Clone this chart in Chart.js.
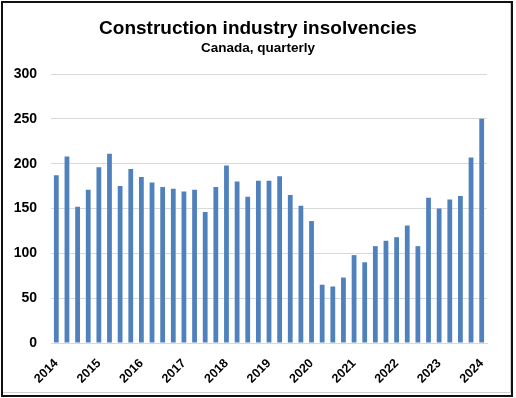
<!DOCTYPE html>
<html>
<head>
<meta charset="utf-8">
<script src="https://cdn.jsdelivr.net/npm/chart.js@4/dist/chart.umd.min.js"></script>
<style>
  html, body { margin: 0; padding: 0; background: #ffffff; }
  #wrap { position: absolute; left: 0; top: 0; width: 516px; height: 398px; }
</style>
</head>
<body>
<div id="wrap"><canvas id="c" width="516" height="398"></canvas></div>
<script>
const titleText = 'Construction industry insolvencies';
const subtitleText = 'Canada, quarterly';

const quarters = [
  '2014 Q1','2014 Q2','2014 Q3','2014 Q4',
  '2015 Q1','2015 Q2','2015 Q3','2015 Q4',
  '2016 Q1','2016 Q2','2016 Q3','2016 Q4',
  '2017 Q1','2017 Q2','2017 Q3','2017 Q4',
  '2018 Q1','2018 Q2','2018 Q3','2018 Q4',
  '2019 Q1','2019 Q2','2019 Q3','2019 Q4',
  '2020 Q1','2020 Q2','2020 Q3','2020 Q4',
  '2021 Q1','2021 Q2','2021 Q3','2021 Q4',
  '2022 Q1','2022 Q2','2022 Q3','2022 Q4',
  '2023 Q1','2023 Q2','2023 Q3','2023 Q4',
  '2024 Q1'
];

const insolvencies = [
  187, 208, 152, 171,
  196, 211, 175, 194,
  185, 179, 174, 172,
  169, 171, 146, 174,
  198, 180, 163, 181,
  181, 186, 165, 153,
  136, 65, 63, 73,
  98, 90, 108, 114,
  118, 131, 108, 162,
  150, 160, 164, 207,
  250
];

const yTicks = [0, 50, 100, 150, 200, 250, 300];

const framePlugin = {
  id: 'frame',
  afterDraw(chart) {
    const ctx = chart.ctx;
    ctx.save();
    ctx.strokeStyle = '#d0d0d0';
    ctx.lineWidth = 1;
    ctx.beginPath();
    ctx.moveTo(510.5, 3);
    ctx.lineTo(510.5, 392.5);
    ctx.lineTo(3, 392.5);
    ctx.stroke();
    ctx.strokeStyle = '#111111';
    ctx.lineWidth = 2;
    ctx.strokeRect(2, 2, 510, 394);
    ctx.restore();
  }
};

new Chart(document.getElementById('c'), {
  type: 'bar',
  data: {
    labels: quarters,
    datasets: [{
      label: 'Insolvencies',
      data: insolvencies,
      backgroundColor: '#4f81bd',
      borderWidth: 0,
      barPercentage: 0.45,
      categoryPercentage: 1.0
    }]
  },
  options: {
    responsive: false,
    animation: false,
    devicePixelRatio: 1,
    layout: { padding: { left: 0, right: 0, top: 0, bottom: 0 } },
    plugins: {
      legend: { display: false },
      tooltip: { enabled: false },
      title: {
        display: true,
        text: titleText,
        color: '#000000',
        font: { family: 'Liberation Sans', size: 19, weight: 'bold' },
        padding: { top: 17, bottom: 0 }
      },
      subtitle: {
        display: true,
        text: subtitleText,
        color: '#000000',
        font: { family: 'Liberation Sans', size: 13.5, weight: 'bold' },
        padding: { top: 0, bottom: 18 }
      }
    },
    scales: {
      x: {
        grid: { display: false },
        border: { display: true, color: '#d9d9d9', width: 1 },
        ticks: {
          autoSkip: false,
          maxRotation: 45,
          minRotation: 45,
          padding: 5,
          color: '#000000',
          font: { family: 'Liberation Sans', size: 12.5, weight: 'bold' },
          callback: function (value, index) {
            const q = quarters[index];
            return q.endsWith('Q1') ? q.slice(0, 4) : '';
          }
        },
        afterFit(scale) { scale.height = 55; }
      },
      y: {
        min: 0,
        max: 300,
        grid: { color: '#d9d9d9', lineWidth: 1, drawTicks: false },
        border: { display: false },
        afterBuildTicks(scale) { scale.ticks = yTicks.map(v => ({ value: v })); },
        ticks: {
          padding: 14,
          color: '#000000',
          font: { family: 'Liberation Sans', size: 14, weight: 'bold' }
        },
        afterFit(scale) { scale.width = 51; }
      },
      yRight: {
        position: 'right',
        min: 0,
        max: 300,
        grid: { display: false, drawTicks: false },
        border: { display: false },
        ticks: { display: false },
        afterFit(scale) { scale.width = 29; }
      }
    }
  },
  plugins: [framePlugin]
});
</script>
</body>
</html>
